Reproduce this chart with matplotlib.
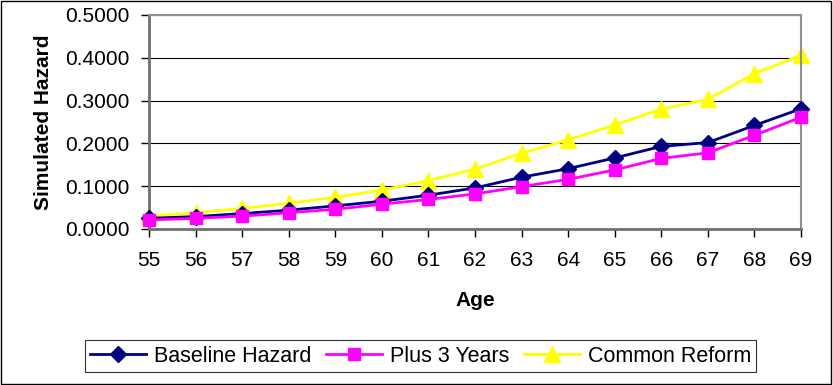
import matplotlib
matplotlib.use("Agg")
import matplotlib.pyplot as plt
from matplotlib.patches import Rectangle

plt.rcParams['font.family'] = ['Liberation Sans', 'DejaVu Sans']

ages = [55, 56, 57, 58, 59, 60, 61, 62, 63, 64, 65, 66, 67, 68, 69]
baseline = [0.025, 0.029, 0.036, 0.044, 0.054, 0.065, 0.079, 0.096, 0.121, 0.141, 0.166, 0.193, 0.202, 0.242, 0.281]
plus3 = [0.021, 0.025, 0.030, 0.038, 0.046, 0.058, 0.069, 0.082, 0.099, 0.116, 0.138, 0.165, 0.178, 0.219, 0.261]
common = [0.030, 0.038, 0.048, 0.060, 0.074, 0.091, 0.113, 0.140, 0.177, 0.208, 0.243, 0.280, 0.303, 0.363, 0.406]
yticks = [0.0, 0.1, 0.2, 0.3, 0.4, 0.5]

FS = 15

fig = plt.figure(figsize=(8.33, 3.85), dpi=100)
ax = fig.add_axes([149/833, 1-229/385, (801-149)/833, (229-15)/385])

ax.plot(ages, baseline, color='#000080', lw=2, marker='D', ms=8, label='Baseline Hazard', zorder=3, clip_on=False)
ax.plot(ages, plus3, color='#FF00FF', lw=2, marker='s', ms=9, label='Plus 3 Years', zorder=4, clip_on=False)
ax.plot(ages, common, color='#FFFF00', lw=2, marker='^', ms=11, label='Common Reform', zorder=2, clip_on=False)

ax.set_xlim(ages[0], ages[-1])
ax.set_ylim(0, 0.5)
ax.set_xticks(ages)
ax.set_xticklabels([str(a) for a in ages], fontsize=FS)
ax.set_yticks(yticks)
ax.set_yticklabels([f"{v:.4f}" for v in yticks], fontsize=FS)
ax.grid(axis='y', color='black', lw=0.8)
ax.set_axisbelow(True)
for s in ['top', 'right']:
    ax.spines[s].set_color('#909090')
    ax.spines[s].set_linewidth(1.5)
for s in ['left', 'bottom']:
    ax.spines[s].set_color('#707070')
    ax.spines[s].set_linewidth(2)
ax.tick_params(axis='y', direction='out', length=6, width=1, color='black', pad=8)
ax.tick_params(axis='x', direction='out', length=6, width=1, color='black', pad=9.5)
ax.set_xlabel('Age', fontsize=FS, fontweight='bold', labelpad=15.5)
ax.set_ylabel('Simulated Hazard', fontsize=FS, fontweight='bold', labelpad=9)

leg = fig.legend(loc='center', bbox_to_anchor=((84+757)/2/833, 1-356/385),
                 ncol=3, fontsize=15.5, frameon=True, fancybox=False, edgecolor='black',
                 handlelength=2.6, columnspacing=0.7, handletextpad=0.35, borderaxespad=0,
                 borderpad=0.25)
leg.get_frame().set_linewidth(0.8)

fig.patches.append(Rectangle((0.001, 0.002), 0.997, 0.995, transform=fig.transFigure,
                             fill=False, edgecolor='black', lw=1))

fig.savefig('out.png', dpi=100)
